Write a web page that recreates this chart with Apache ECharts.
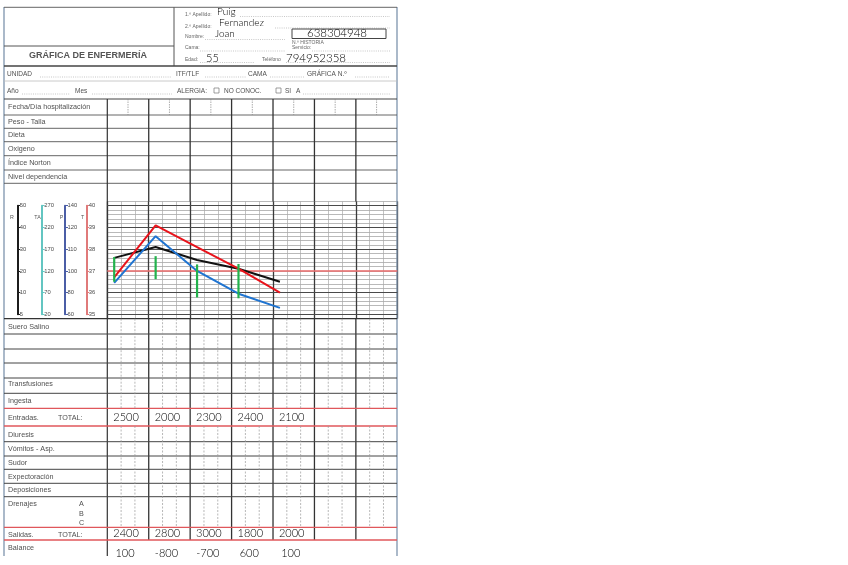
<!DOCTYPE html>
<html><head><meta charset="utf-8">
<script src="https://cdn.jsdelivr.net/npm/echarts@6/dist/echarts.min.js"></script>
<style>html,body{margin:0;padding:0;background:#fff}#c{width:848px;height:565px}</style>
</head><body><div id="c"></div>
<script>
// ---------------- data ----------------
const DAYS = ['1','2','3','4','5','6','7'];
const SHIFTS = ['M','T','N'];
const MEASURE_SLOT = [0, 3, 6, 9, 12];          // first shift of days 1..5
const TEMP  = [36.7, 39.1, 38.1, 37.1, 36.0];   // T (ºC)
const PULSE = [89, 116, 100, 79, 66];            // P (lpm)
const RESP  = [26, 31, 25, 21, 15];              // R (rpm)
const TA_SLOT = [0, 3, 6, 9];
const TA_SYS = [152, 154, 135, 136];             // TA sistólica
const TA_DIA = [95, 101, 59, 57];                // TA diastólica
const T_TICKS  = [35, 36, 37, 38, 39, 40];
const R_TICKS  = [5, 10, 20, 30, 40, 50];
const TA_TICKS = [20, 70, 120, 170, 220, 270];
const P_TICKS  = [60, 80, 100, 110, 120, 140];
const ENTRADAS = [2500, 2000, 2300, 2400, 2100];
const SALIDAS  = [2400, 2800, 3000, 1800, 2000];
const BALANCE  = [100, -800, -700, 600, 100];

const SLOTS = DAYS.flatMap(d => SHIFTS.map(s => d + s));

function toT(v, ticks) {
  for (let i = 0; i < ticks.length - 1; i++) {
    if (v <= ticks[i + 1] || i === ticks.length - 2) {
      return T_TICKS[i] + (v - ticks[i]) / (ticks[i + 1] - ticks[i]) * (T_TICKS[i + 1] - T_TICKS[i]);
    }
  }
}

// ---------------- layout ----------------
const GX = 107.3, GW = 290, GT = 201.4, GH = 117.3;
const Y_MIN = 34.8, Y_MAX = 40.2;
const PPD = GH / (Y_MAX - Y_MIN);
const ST = GT + (Y_MAX - 40) * PPD, SH = 5 * PPD;
const SCALES = [
  {name: 'R',  x: 18.3, color: '#1c1c1c', ticks: R_TICKS,  nx: 12},
  {name: 'TA', x: 42.7, color: '#63c5c1', ticks: TA_TICKS, nx: 37.5},
  {name: 'P',  x: 66.0, color: '#4b5ea6', ticks: P_TICKS,  nx: 61.5},
  {name: 'T',  x: 87.3, color: '#e07a7a', ticks: T_TICKS,  nx: 82.5}
];

const chart = echarts.init(document.getElementById('c'), null, {renderer: 'canvas'});

const grids = [{left: GX, top: GT, width: GW, height: GH}];
const xAxes = [
  {gridIndex: 0, type: 'category', data: SLOTS, boundaryGap: true,
   axisLine: {show: false}, axisTick: {show: false}, axisLabel: {show: false},
   splitLine: {show: true, interval: 0, lineStyle: {color: '#a9a9a9', width: 0.7}}},
  {gridIndex: 0, type: 'category', data: DAYS, boundaryGap: true,
   axisLine: {show: false}, axisTick: {show: false}, axisLabel: {show: false},
   splitLine: {show: true, interval: 0, lineStyle: {color: '#3a3a3a', width: 1.3}}}
];
const yAxes = [
  {gridIndex: 0, type: 'value', min: Y_MIN, max: Y_MAX, interval: 0.2,
   axisLine: {show: false}, axisTick: {show: false}, axisLabel: {show: false},
   splitLine: {show: true, lineStyle: {color: '#8a8a8a', width: 0.6}}}
];
SCALES.forEach((s, i) => {
  grids.push({left: s.x - 1, top: ST, width: 1, height: SH});
  xAxes.push({gridIndex: i + 1, type: 'value', show: false});
  yAxes.push({gridIndex: i + 1, type: 'value', min: 35, max: 40, interval: 1, position: 'right',
    axisLine: {show: true, lineStyle: {color: s.color, width: 2}},
    axisTick: {show: true, length: 3, lineStyle: {color: s.color, width: 1}},
    axisLabel: {show: true, margin: 1.5, fontSize: 5.8, color: '#4a4a4a', fontFamily: 'Liberation Sans',
      formatter: v => String(s.ticks[Math.round(v - 35)])},
    splitLine: {show: false}});
});

const lineSeries = (name, vals, ticks, color) => ({
  name, type: 'line', xAxisIndex: 0, yAxisIndex: 0, symbol: 'none', z: 5,
  lineStyle: {color, width: 2}, itemStyle: {color},
  data: MEASURE_SLOT.map((s, i) => [s, toT(vals[i], ticks)])
});

chart.setOption({
  animation: false,
  grid: grids, xAxis: xAxes, yAxis: yAxes,
  series: [
    {type: 'line', xAxisIndex: 0, yAxisIndex: 0, data: [], silent: true,
     markLine: {silent: true, symbol: 'none', label: {show: false}, emphasis: {disabled: true},
       data: [35, 36, 38, 39, 40].map(v => ({yAxis: v, lineStyle: {color: '#4a4a4a', width: 1, type: 'solid'}}))
         .concat([{yAxis: 37, lineStyle: {color: 'rgba(232,112,112,0.8)', width: 2.2, type: 'solid'}}])}},
    lineSeries('R', RESP, R_TICKS, '#111111'),
    lineSeries('P', PULSE, P_TICKS, '#1f74d1'),
    lineSeries('T', TEMP, T_TICKS, '#e8131b'),
    {name: 'TA', type: 'custom', xAxisIndex: 0, yAxisIndex: 0, z: 6,
     encode: {x: 0, y: [1, 2]},
     data: TA_SLOT.map((s, i) => [s, toT(TA_SYS[i], TA_TICKS), toT(TA_DIA[i], TA_TICKS)]),
     renderItem: (params, api) => {
       const x = api.value(0);
       const p1 = api.coord([x, api.value(1)]);
       const p2 = api.coord([x, api.value(2)]);
       return {type: 'line', shape: {x1: p1[0], y1: p1[1], x2: p2[0], y2: p2[1]},
               style: {stroke: '#22b24c', lineWidth: 2.2}};
     }}
  ]
});

// ---------------- form (graphic) ----------------
const G = [];
const LF = 'Liberation Sans';
const HF = 'Lato';
const LS = 7.2;
function hl(x1, x2, y, c, w, dash) { G.push({type: 'line', silent: true, z: 1, shape: {x1, y1: y, x2, y2: y}, style: {stroke: c, lineWidth: w, lineDash: dash || null}}); }
function vl(x, y1, y2, c, w, dash) { G.push({type: 'line', silent: true, z: 1, shape: {x1: x, y1, x2: x, y2}, style: {stroke: c, lineWidth: w, lineDash: dash || null}}); }
function tx(x, y, t, size, opt) {
  opt = opt || {};
  G.push({type: 'text', silent: true, z: 10, x, y, style: {text: t, fill: opt.color || '#505050', fontSize: size,
    fontFamily: opt.family || LF, fontWeight: opt.weight || 'normal', textAlign: opt.align || 'left', textVerticalAlign: 'middle'}});
}
function hw(x, y, t, size, align) { tx(x, y, t, size, {family: HF, weight: 300, color: '#000', align: align || 'left'}); }
function box(x, y, w, h, c, lw) { G.push({type: 'rect', silent: true, z: 1, shape: {x, y, width: w, height: h}, style: {fill: 'none', stroke: c, lineWidth: lw}}); }
const DOT = [1, 1.2];

// outer border
vl(4, 7, 556, '#7d94ad', 1.3);
vl(397, 7, 556, '#7d94ad', 1.3);
hl(4, 397, 7.3, '#666', 1);
// header
vl(174, 7.3, 66, '#555', 1);
hl(4, 174, 46, '#555', 1);
hl(4, 397, 66, '#444', 1.3);
hl(4, 397, 81, '#bdbdbd', 0.8);
hl(4, 397, 99, '#444', 1.2);
tx(88, 56, 'GRÁFICA DE ENFERMERÍA', 9, {weight: 'bold', align: 'center', color: '#555'});

tx(185, 15, '1.º Apellido:', 5, {color: '#666'});
tx(185, 27, '2.º Apellido:', 5, {color: '#666'});
tx(185, 37, 'Nombre:', 5, {color: '#666'});
tx(185, 48, 'Cama:', 5, {color: '#666'});
tx(185, 60, 'Edad:', 5, {color: '#666'});
tx(292, 42.5, 'N.º HISTORIA', 5, {color: '#666'});
tx(292, 47.5, 'Servicio:', 5, {color: '#666'});
tx(262, 59.5, 'Teléfono', 5, {color: '#666'});
hl(240, 390, 16.5, '#b0b0b0', 0.7, DOT);
hl(275, 390, 28, '#b0b0b0', 0.7, DOT);
hl(205, 285, 39.5, '#b0b0b0', 0.7, DOT);
hl(200, 285, 51, '#b0b0b0', 0.7, DOT);
hl(312, 390, 51, '#b0b0b0', 0.7, DOT);
hl(200, 255, 62.5, '#b0b0b0', 0.7, DOT);
hl(286, 390, 62.5, '#b0b0b0', 0.7, DOT);
box(292, 29, 94, 9.5, '#444', 1);
hw(217, 11.5, 'Puig', 10);
hw(219, 22.5, 'Fernandez', 10);
hw(215, 34, 'Joan', 10);
hw(307, 33.5, '638304948', 11.5);
hw(206, 58, '55', 11);
hw(286, 58, '794952358', 11.5);

// rows 2 and 3
tx(7, 74, 'UNIDAD', 6.5, {});
hl(40, 172, 77, '#b0b0b0', 0.7, DOT);
tx(176, 74, 'ITF/TLF', 6.5, {});
hl(205, 246, 77, '#b0b0b0', 0.7, DOT);
tx(248, 74, 'CAMA', 6.5, {});
hl(270, 305, 77, '#b0b0b0', 0.7, DOT);
tx(307, 74, 'GRÁFICA N.º', 6.5, {});
hl(355, 390, 77, '#b0b0b0', 0.7, DOT);
tx(7, 91, 'Año', 6.5, {});
hl(22, 70, 94, '#b0b0b0', 0.7, DOT);
tx(75, 91, 'Mes', 6.5, {});
hl(92, 172, 94, '#b0b0b0', 0.7, DOT);
tx(177, 91, 'ALERGIA:', 6.5, {});
box(214, 88, 5, 5, '#777', 0.7);
tx(224, 91, 'NO CONOC.', 6.5, {});
box(276, 88, 5, 5, '#777', 0.7);
tx(285, 91, 'SI', 6.5, {});
tx(296, 91, 'A', 6.5, {});
hl(303, 390, 94, '#b0b0b0', 0.7, DOT);

// table top rows
const COLW = GW / 7;
const TOP_ROWS = [115, 128.3, 141.7, 155.7, 170, 183.3];
TOP_ROWS.forEach(y => hl(4, 397, y, '#555', 0.9));
const TOP_LABELS = ['Fecha/Día hospitalización', 'Peso - Talla', 'Dieta', 'Oxigeno', 'Índice Norton', 'Nivel dependencia'];
[107, 121.6, 135, 148.7, 162.8, 176.6].forEach((y, i) => tx(8, y, TOP_LABELS[i], LS, {}));
vl(GX, 99, 556, '#333', 1.2);
for (let k = 1; k < 7; k++) {
  const x = GX + COLW * k;
  vl(x, 99, GT, '#333', 1.3);
  vl(x, GT + GH, 540, '#333', 1.3);
}
for (let k = 0; k < 7; k++) vl(GX + COLW * (k + 0.5), 99, 115, '#8a8a8a', 0.7, [1.5, 1]);

// scale names
SCALES.forEach(s => tx(s.nx, 217.5, s.name, 5.3, {align: 'center', color: '#555'}));

// lower rows
const BOT = GT + GH;
hl(4, 397, BOT, '#333', 1.2);
[334, 349, 363, 378, 393.3, 441.7, 456, 469.3, 483.3, 496.7].forEach(y => hl(4, 397, y, '#444', 1));
[408.3, 426, 527.3, 540].forEach(y => hl(4, 397, y, '#e0575b', 1.3));
for (let k = 0; k < 7; k++) {
  for (const f of [1 / 3, 2 / 3]) {
    const x = GX + COLW * (k + f);
    vl(x, BOT, 408.3, '#9a9a9a', 0.7, [2, 1.5]);
    vl(x, 426, 527.3, '#9a9a9a', 0.7, [2, 1.5]);
  }
}
tx(8, 327, 'Suero Salino', LS, {});
tx(8, 384.5, 'Transfusiones', LS, {});
tx(8, 401.5, 'Ingesta', LS, {});
tx(8, 418.5, 'Entradas.', LS, {});
tx(58, 418.5, 'TOTAL:', LS, {});
tx(8, 435, 'Diuresis', LS, {});
tx(8, 449.5, 'Vómitos - Asp.', LS, {});
tx(8, 463.5, 'Sudor', LS, {});
tx(8, 477, 'Expectoración', LS, {});
tx(8, 490.5, 'Deposiciones', LS, {});
tx(8, 504, 'Drenajes', LS, {});
tx(79, 504, 'A', LS, {});
tx(79, 514.5, 'B', LS, {});
tx(79, 523.5, 'C', LS, {});
tx(8, 535.5, 'Salidas.', LS, {});
tx(58, 535.5, 'TOTAL:', LS, {});
tx(8, 548.5, 'Balance', LS, {});

// handwritten totals, positioned on the day axis
const dayX = i => chart.convertToPixel({xAxisIndex: 1}, i);
ENTRADAS.forEach((v, i) => hw(dayX(i) - 2, 417.5, String(v), 11, 'center'));
SALIDAS.forEach((v, i) => hw(dayX(i) - 2, 533.5, String(v), 11, 'center'));
BALANCE.forEach((v, i) => hw(dayX(i) - 3, 553, String(v), 11, 'center'));

chart.setOption({graphic: {elements: G}});
</script>
</body></html>
